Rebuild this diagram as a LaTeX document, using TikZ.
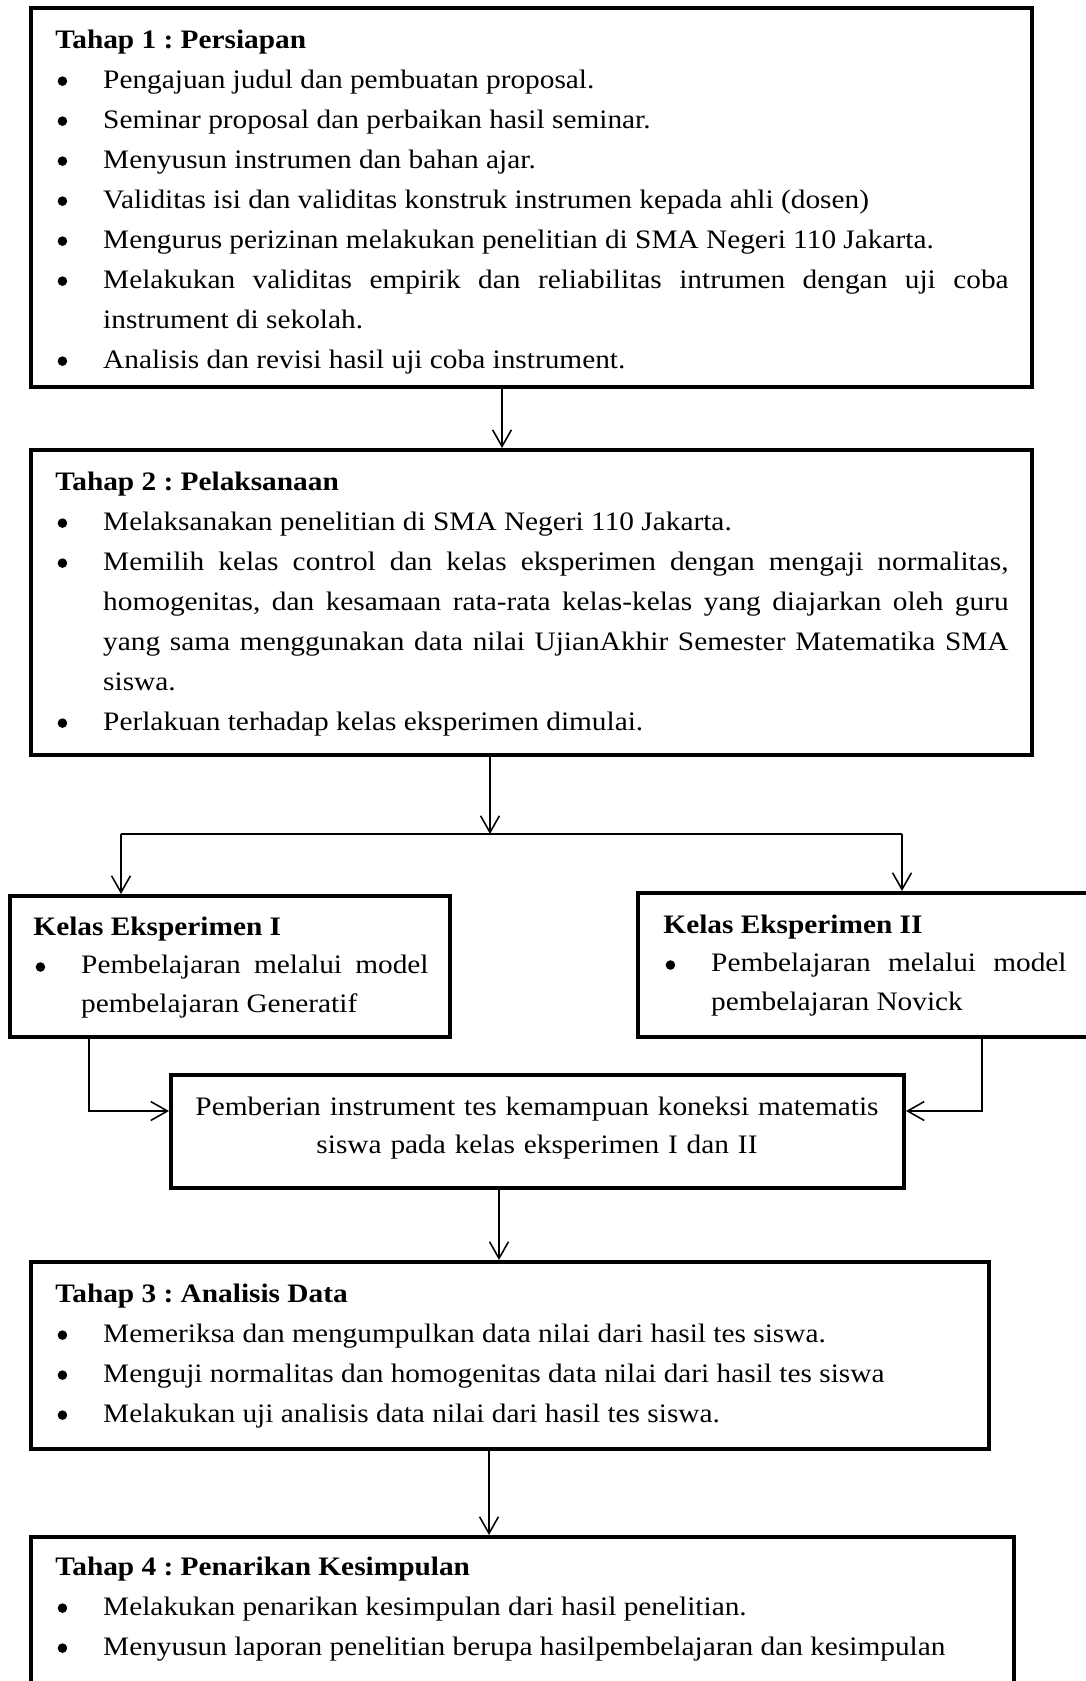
\documentclass[tikz,border=0pt]{standalone}
\usepackage{fontspec}
\setmainfont{Liberation Serif}[FakeStretch=1.1]
\usepackage{tikz}
\usetikzlibrary{arrows.meta, fit}

% bullet line with hanging indent
\newlength{\butirind}
\setlength{\butirind}{21.5pt}
\newcommand{\titik}{\tikz[baseline=0pt]\fill (0,3.1pt) circle[radius=2.15pt];}
\newcommand{\butir}[1]{\par\hangindent=\butirind\hangafter=1\noindent\makebox[\butirind][l]{\hspace{1.0pt}\titik}#1\par}
\newcommand{\isi}{\fontsize{12pt}{18pt}\selectfont}
\newcommand{\isikecil}{\fontsize{12pt}{17.5pt}\selectfont}
\frenchspacing
\hyphenpenalty=10000
\exhyphenpenalty=10000
\tolerance=3000
\emergencystretch=2em

\begin{document}
\begin{tikzpicture}[x=0.45pt, y=-0.45pt,
  stagebox/.style={draw, line width=1.8pt, inner sep=0pt},
  stagetext/.style={anchor=base west, inner sep=0pt, text width=#1, align=justify, font=\isi},
  sidetext/.style={anchor=base west, inner sep=0pt, text width=#1, align=justify, font=\isikecil},
  arrow/.style={-{Straight Barb[length=7.5pt, width=8.5pt]}, line width=0.7pt}
]
  \useasboundingbox (0,0) rectangle (1086,1681);

  % frames
  \node[stagebox, fit={(31,8) (1032,387)}] (t1) {};
  \node[stagebox, fit={(31,450) (1032,755)}] (t2) {};
  \node[stagebox, fit={(10,896) (450,1037)}] (ke1) {};
  \node[stagebox, fit={(638,893) (1110,1037)}] (ke2) {};
  \node[stagebox, fit={(171,1075) (904,1188)}] (mid) {};
  \node[stagebox, fit={(31,1262) (989,1449)}] (t3) {};
  \node[stagebox, fit={(31,1537) (1014,1730)}] (t4) {};

  % texts
  \node[stagetext=428.9pt] (t1txt) at (55,48) {\textbf{Tahap 1 : Persiapan}
    \butir{Pengajuan judul dan pembuatan proposal.}
    \butir{Seminar proposal dan perbaikan hasil seminar.}
    \butir{Menyusun instrumen dan bahan ajar.}
    \butir{Validitas isi dan validitas konstruk instrumen kepada ahli (dosen)}
    \butir{Mengurus perizinan melakukan penelitian di SMA Negeri 110 Jakarta.}
    \butir{Melakukan validitas empirik dan reliabilitas intrumen dengan uji coba\linebreak instrument di sekolah.}
    \butir{Analisis dan revisi hasil uji coba instrument.}};

  \node[stagetext=428.9pt] (t2txt) at (55,490) {\textbf{Tahap 2 : Pelaksanaan}
    \butir{Melaksanakan penelitian di SMA Negeri 110 Jakarta.}
    \butir{Memilih kelas control dan kelas eksperimen dengan mengaji normalitas,\linebreak homogenitas, dan kesamaan rata-rata kelas-kelas yang diajarkan oleh guru\linebreak yang sama menggunakan data nilai UjianAkhir Semester Matematika SMA\linebreak siswa.}
    \butir{Perlakuan terhadap kelas eksperimen dimulai.}};

  \node[sidetext=177.8pt] (ke1txt) at (33,935) {\textbf{Kelas Eksperimen I}
    \butir{Pembelajaran melalui model\linebreak pembelajaran Generatif}};

  \node[sidetext=181.4pt] (ke2txt) at (663,933) {\textbf{Kelas Eksperimen II}
    \butir{Pembelajaran melalui model\linebreak pembelajaran Novick}};

  \node[anchor=base, inner sep=0pt, text width=345pt, font=\fontsize{12pt}{17.1pt}\selectfont] (midtxt) at (537,1115)
    {\centering Pemberian instrument tes kemampuan koneksi matematis\\ siswa pada kelas eksperimen I dan II\par};

  \node[stagetext=409.5pt] (t3txt) at (55,1302) {\textbf{Tahap 3 : Analisis Data}
    \butir{Memeriksa dan mengumpulkan data nilai dari hasil tes siswa.}
    \butir{Menguji normalitas dan homogenitas data nilai dari hasil tes siswa}
    \butir{Melakukan uji analisis data nilai dari hasil tes siswa.}};

  \node[stagetext=420.7pt] (t4txt) at (55,1575) {\textbf{Tahap 4 : Penarikan Kesimpulan}
    \butir{Melakukan penarikan kesimpulan dari hasil penelitian.}
    \butir{Menyusun laporan penelitian berupa hasilpembelajaran dan kesimpulan}};

  % connectors
  \coordinate (a1) at (502,0);
  \coordinate (a2) at (490,834);
  \coordinate (sx1) at (121,834);
  \coordinate (sx2) at (902,834);
  \coordinate (j1) at (89,1111);
  \coordinate (j2) at (982,1111);
  \coordinate (a3) at (499,0);
  \coordinate (a4) at (489,0);

  \draw[arrow] (t1.south -| a1) -- (t2.north -| a1);
  \draw[arrow] (t2.south -| a2) -- (a2);
  \draw[line width=0.7pt] (sx1) -- (sx2);
  \draw[arrow] (sx1) -- (ke1.north -| sx1);
  \draw[arrow] (sx2) -- (ke2.north -| sx2);
  \draw[arrow] (ke1.south -| j1) |- (mid.west |- j1);
  \draw[arrow] (ke2.south -| j2) |- (mid.east |- j2);
  \draw[arrow] (mid.south -| a3) -- (t3.north -| a3);
  \draw[arrow] (t3.south -| a4) -- (t4.north -| a4);
\end{tikzpicture}
\end{document}
